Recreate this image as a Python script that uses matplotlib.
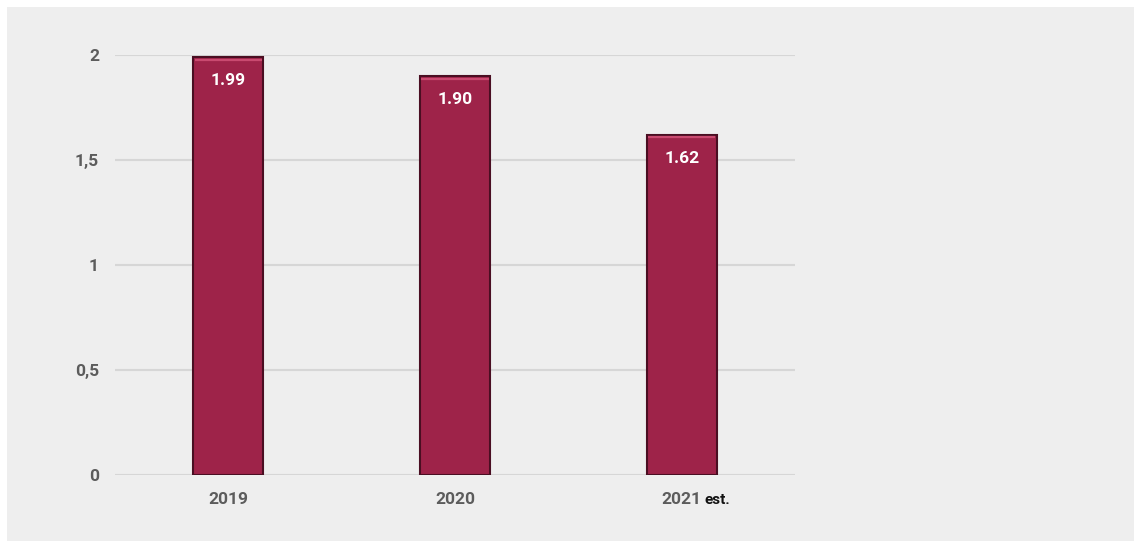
import matplotlib.pyplot as plt
from matplotlib.patches import Rectangle

years = ["2019", "2020", "2021"]
values = [1.99, 1.90, 1.62]
value_labels = ["1.99", "1.90", "1.62"]
y_ticks = [0, 0.5, 1, 1.5, 2]
y_tick_labels = ["0", "0,5", "1", "1,5", "2"]

bar_color = "#9e2349"
edge_color = "#4a0e22"
top_color = "#c94a70"
bg_color = "#eeeeee"

plt.rcParams["font.family"] = ["Roboto", "DejaVu Sans"]

fig = plt.figure(figsize=(11.39, 5.43), dpi=100)
fig.patch.set_facecolor("white")
# grey panel with a thin white border
fig.patches.append(Rectangle((7 / 1139, 2 / 543), 1127 / 1139, 534 / 543,
                             transform=fig.transFigure, facecolor=bg_color,
                             edgecolor="none", zorder=-5))

ax = fig.add_axes([115 / 1139, (543 - 475) / 543, 680 / 1139, 420 / 543])
ax.set_facecolor("none")
ax.set_zorder(2)

x = range(len(years))
width = 0.31
ax.bar(x, values, width=width, color=bar_color, edgecolor=edge_color,
       linewidth=1.5, zorder=3)
# lighter strip along the top of each bar
for i, v in zip(x, values):
    ax.hlines(v - 0.012, i - width / 2 + 0.006, i + width / 2 - 0.006,
              color=top_color, linewidth=1.6, zorder=4)
    ax.annotate(value_labels[i], (i, v), xytext=(0, -11.5), textcoords="offset points",
                ha="center", va="top", color="white", fontsize=12.5,
                fontweight="bold", zorder=5)

ax.set_xlim(-0.5, 2.5)
ax.set_ylim(0, 2)
ax.set_yticks(y_ticks)
ax.set_yticklabels(y_tick_labels)
ax.set_xticks(list(x))
ax.set_xticklabels(years)
ax.yaxis.grid(True, color="#d6d6d6", linewidth=1.5, zorder=0)
ax.set_axisbelow(True)
for s in ax.spines.values():
    s.set_visible(False)
ax.tick_params(axis="both", length=0, labelsize=12.5, labelcolor="#5c5c5c")
ax.tick_params(axis="y", pad=11.5)
ax.tick_params(axis="x", pad=12)
for lbl in ax.get_xticklabels() + ax.get_yticklabels():
    lbl.set_fontweight("bold")

# "est." follows the last year label on the same baseline
fig.canvas.draw()
bb = ax.get_xticklabels()[2].get_window_extent()
px, py = fig.transFigure.inverted().transform((bb.x1 + 3, bb.y0))
fig.text(px, py, "est.", ha="left", va="bottom", fontsize=11,
         fontweight="bold", color="#111111")

fig.savefig("out.png", dpi=100, facecolor=fig.get_facecolor())
